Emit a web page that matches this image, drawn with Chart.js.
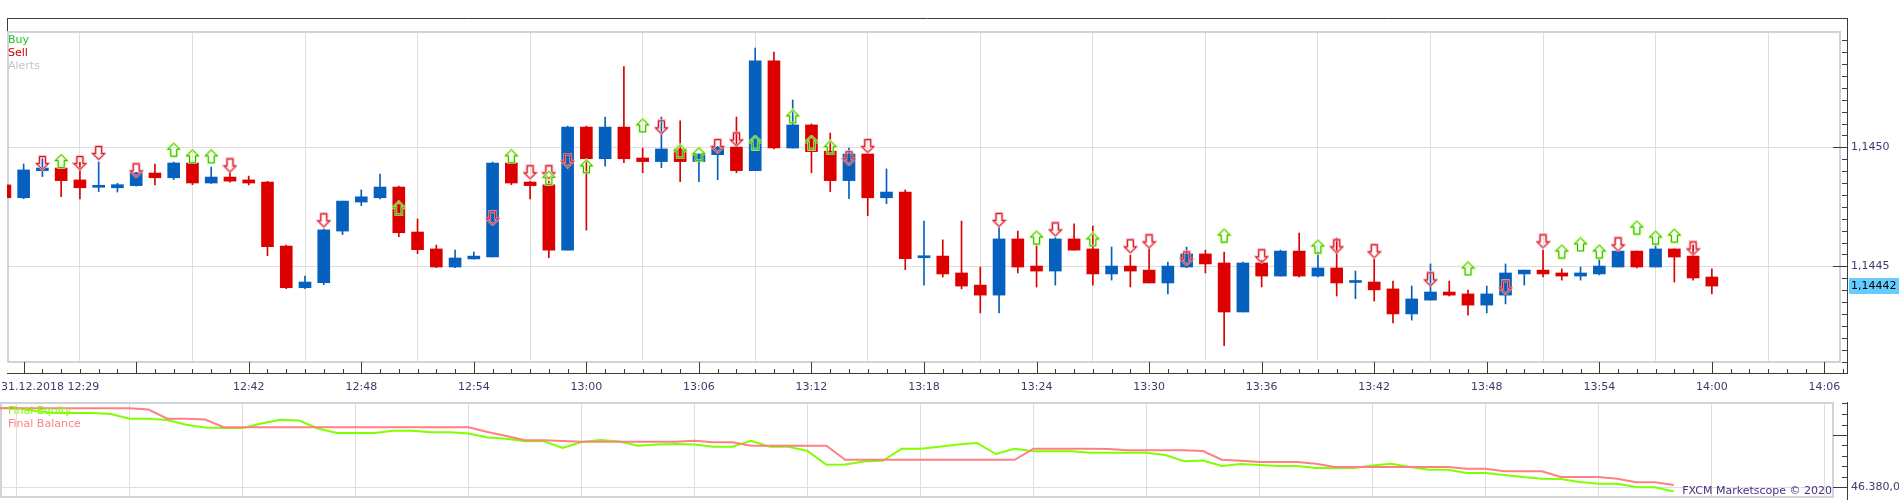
<!DOCTYPE html>
<html>
<head>
<meta charset="utf-8">
<title>EUR/USD m1 - Marketscope</title>
<script src="https://cdn.jsdelivr.net/npm/chart.js@4.4.1/dist/chart.umd.min.js"></script>
<style>
  html, body { margin: 0; padding: 0; background: #ffffff; }
  #wrap { position: relative; width: 1899px; height: 500px; overflow: hidden; }
  #chartPrezzo { position: absolute; left: 0; top: 0; }
  #chartConto { position: absolute; left: 0; top: 400px; }
</style>
</head>
<body>
<div id="wrap">
  <canvas id="chartPrezzo" width="1899" height="400"></canvas>
  <canvas id="chartConto" width="1899" height="100"></canvas>
</div>
<script>
// dati: una candela al minuto a partire dalle 12:29
var dataSessione = '31.12.2018';
var inizioMinuti = 12 * 60 + 29;

var aperture = [
  1.144842, 1.144788, 1.144902, 1.144913, 1.144863, 1.144832, 1.144830, 1.144839, 1.144892, 1.144872,
  1.144934, 1.144850, 1.144875, 1.144863, 1.144854, 1.144585, 1.144410, 1.144431, 1.144648, 1.144770,
  1.144788, 1.144833, 1.144644, 1.144573, 1.144497, 1.144531, 1.144539, 1.144934, 1.144854, 1.144842,
  1.144568, 1.145085, 1.144952, 1.145085, 1.144955, 1.144940, 1.144993, 1.144940, 1.144969, 1.145001,
  1.144902, 1.145363, 1.144997, 1.145094, 1.144984, 1.144860, 1.144972, 1.144788, 1.144812, 1.144536,
  1.144543, 1.144472, 1.144421, 1.144379, 1.144615, 1.144501, 1.144480, 1.144615, 1.144573, 1.144468,
  1.144501, 1.144484, 1.144430, 1.144497, 1.144552, 1.144514, 1.144308, 1.144514, 1.144459, 1.144564,
  1.144459, 1.144493, 1.144432, 1.144434, 1.144405, 1.144300, 1.144358, 1.144392, 1.144384, 1.144337,
  1.144379, 1.144468, 1.144484, 1.144472, 1.144459, 1.144468, 1.144497, 1.144564, 1.144497, 1.144573,
  1.144543, 1.144455
];
var massimi = [
  1.144845, 1.144930, 1.144952, 1.144913, 1.144937, 1.144938, 1.144849, 1.144895, 1.144930, 1.144938,
  1.144934, 1.144917, 1.144898, 1.144879, 1.144857, 1.144589, 1.144459, 1.144657, 1.144774, 1.144821,
  1.144888, 1.144837, 1.144699, 1.144589, 1.144568, 1.144560, 1.144938, 1.144934, 1.144857, 1.144858,
  1.145089, 1.145089, 1.145127, 1.145339, 1.144997, 1.145127, 1.145111, 1.144972, 1.145003, 1.145127,
  1.145417, 1.145400, 1.145199, 1.145098, 1.145060, 1.144997, 1.144972, 1.144909, 1.144821, 1.144690,
  1.144611, 1.144690, 1.144497, 1.144664, 1.144648, 1.144594, 1.144620, 1.144678, 1.144669, 1.144581,
  1.144547, 1.144573, 1.144518, 1.144581, 1.144568, 1.144560, 1.144518, 1.144526, 1.144568, 1.144640,
  1.144560, 1.144619, 1.144480, 1.144531, 1.144438, 1.144417, 1.144510, 1.144438, 1.144400, 1.144417,
  1.144510, 1.144484, 1.144568, 1.144489, 1.144497, 1.144531, 1.144566, 1.144564, 1.144594, 1.144573,
  1.144590, 1.144489
];
var minimi = [
  1.144785, 1.144784, 1.144877, 1.144793, 1.144783, 1.144814, 1.144812, 1.144837, 1.144842, 1.144864,
  1.144843, 1.144848, 1.144854, 1.144842, 1.144545, 1.144406, 1.144406, 1.144423, 1.144633, 1.144755,
  1.144783, 1.144624, 1.144553, 1.144494, 1.144494, 1.144530, 1.144539, 1.144843, 1.144783, 1.144536,
  1.144568, 1.144652, 1.144921, 1.144935, 1.144893, 1.144914, 1.144856, 1.144856, 1.144864, 1.144893,
  1.144902, 1.144993, 1.144997, 1.144893, 1.144814, 1.144784, 1.144713, 1.144763, 1.144486, 1.144421,
  1.144455, 1.144405, 1.144304, 1.144304, 1.144472, 1.144413, 1.144421, 1.144568, 1.144421, 1.144442,
  1.144413, 1.144430, 1.144384, 1.144494, 1.144472, 1.144167, 1.144308, 1.144413, 1.144459, 1.144455,
  1.144455, 1.144375, 1.144364, 1.144354, 1.144262, 1.144274, 1.144358, 1.144375, 1.144295, 1.144304,
  1.144342, 1.144421, 1.144455, 1.144442, 1.144442, 1.144464, 1.144497, 1.144493, 1.144497, 1.144434,
  1.144442, 1.144384
];
var chiusure = [
  1.144788, 1.144905, 1.144913, 1.144860, 1.144830, 1.144834, 1.144843, 1.144893, 1.144872, 1.144934,
  1.144850, 1.144875, 1.144858, 1.144850, 1.144582, 1.144410, 1.144434, 1.144653, 1.144774, 1.144792,
  1.144833, 1.144641, 1.144570, 1.144497, 1.144535, 1.144543, 1.144934, 1.144850, 1.144839, 1.144568,
  1.145085, 1.144952, 1.145085, 1.144952, 1.144940, 1.144993, 1.144940, 1.144972, 1.145001, 1.144902,
  1.145363, 1.144997, 1.145094, 1.144982, 1.144860, 1.144972, 1.144788, 1.144812, 1.144532, 1.144539,
  1.144468, 1.144417, 1.144379, 1.144615, 1.144497, 1.144480, 1.144615, 1.144568, 1.144468, 1.144501,
  1.144480, 1.144430, 1.144501, 1.144552, 1.144510, 1.144308, 1.144514, 1.144459, 1.144564, 1.144459,
  1.144493, 1.144430, 1.144434, 1.144401, 1.144300, 1.144363, 1.144392, 1.144379, 1.144337, 1.144384,
  1.144472, 1.144484, 1.144468, 1.144459, 1.144472, 1.144501, 1.144564, 1.144497, 1.144573, 1.144539,
  1.144451, 1.144417
];

// segnali (indice del minuto, prezzo)
var acquistiIndice = [3, 9, 10, 11, 21, 27, 29, 31, 34, 36, 37, 40, 42, 43, 44, 55, 58, 65, 70, 78, 83, 84, 85, 87, 88, 89];
var acquistiPrezzo = [
  1.144942, 1.144990, 1.144962, 1.144962, 1.144744, 1.144962, 1.144872, 1.144920, 1.145092, 1.144983,
  1.144971, 1.145020, 1.145130, 1.145020, 1.145000, 1.144621, 1.144613, 1.144629, 1.144583, 1.144491,
  1.144562, 1.144592, 1.144562, 1.144663, 1.144621, 1.144629
];
var venditeIndice = [2, 4, 5, 7, 12, 17, 26, 28, 29, 30, 35, 38, 39, 45, 46, 53, 56, 60, 61, 63, 67, 71, 73, 76, 80, 82, 86, 90];
var venditePrezzo = [
  1.144934, 1.144934, 1.144976, 1.144903, 1.144924, 1.144693, 1.144702, 1.144895, 1.144895, 1.144944,
  1.145084, 1.145005, 1.145033, 1.144954, 1.145005, 1.144695, 1.144655, 1.144584, 1.144605, 1.144533,
  1.144542, 1.144584, 1.144563, 1.144445, 1.144411, 1.144605, 1.144592, 1.144575
];

// pannello conto (un valore al minuto dalle 12:29)
var equity = [
  46411.8, 46411.8, 46410.6, 46409.8, 46409.8, 46409.8, 46409.4, 46407.5, 46407.5, 46407.0,
  46405.1, 46404.0, 46403.8, 46403.8, 46405.6, 46407.1, 46406.8, 46403.6, 46401.8, 46401.8,
  46401.8, 46402.7, 46402.7, 46402.1, 46402.1, 46401.6, 46400.0, 46399.5, 46398.5, 46398.5,
  46395.8, 46398.2, 46399.0, 46398.4, 46396.7, 46397.2, 46397.4, 46397.2, 46396.3, 46396.3,
  46398.7, 46396.3, 46396.3, 46394.6, 46389.1, 46389.2, 46390.4, 46390.7, 46395.5, 46395.5,
  46396.3, 46397.2, 46397.8, 46393.4, 46395.5, 46394.5, 46394.5, 46394.5, 46393.9, 46393.9,
  46393.9, 46393.9, 46393.0, 46390.5, 46390.8, 46388.6, 46389.4, 46389.0, 46388.6, 46388.6,
  46387.8, 46387.8, 46387.8, 46388.8, 46389.5, 46388.2, 46387.1, 46387.1, 46385.8, 46385.8,
  46385.0, 46384.2, 46383.5, 46383.4, 46382.2, 46381.5, 46381.5, 46380.2, 46380.1, 46378.4
];
var balance = [
  46411.7, 46411.7, 46411.7, 46411.7, 46411.7, 46411.7, 46411.7, 46411.7, 46411.2, 46407.5,
  46407.5, 46407.2, 46404.1, 46404.1, 46404.1, 46404.1, 46404.1, 46404.1, 46404.1, 46404.1,
  46404.1, 46404.1, 46404.1, 46404.1, 46404.1, 46404.1, 46402.2, 46400.6, 46398.9, 46398.9,
  46398.6, 46398.3, 46398.3, 46398.3, 46398.3, 46398.3, 46398.3, 46398.7, 46398.1, 46398.1,
  46396.7, 46396.7, 46396.7, 46396.7, 46396.7, 46391.1, 46391.1, 46391.1, 46391.1, 46391.1,
  46391.1, 46391.1, 46391.1, 46391.1, 46391.1, 46395.5, 46395.5, 46395.5, 46395.5, 46395.4,
  46394.9, 46394.9, 46394.9, 46394.9, 46394.6, 46391.1, 46390.7, 46390.2, 46390.2, 46390.2,
  46389.5, 46388.2, 46388.2, 46388.2, 46388.2, 46388.2, 46388.2, 46388.2, 46387.5, 46387.5,
  46386.5, 46386.5, 46386.5, 46384.2, 46384.2, 46384.2, 46383.5, 46382.1, 46382.1, 46381.0
];

// tacche degli assi
var tickTempo = [1, 7, 13, 19, 25, 31, 37, 43, 49, 55, 61, 67, 73, 79, 85, 91, 97];
var tickPrezzi = [1.1445, 1.1450];
var passoPrezzo = 0.00005;
var tickConto = [46380];
var passoConto = 4.2;

var xMin = 0.1131, xMax = 98.258;
var yMinPrezzo = 1.1440475, yMaxPrezzo = 1.1455433;
var yMinConto = 46375.0, yMaxConto = 46414.2;

var rosso = '#dc0000';
var blu = '#0561bd';
var coloreTesto = '#3d3a6e';
var coloreGriglia = '#dedede';
var coloreCornice = '#cfd3da';
var coloreAsse = '#3c3c3c';

Chart.defaults.font.family = '"DejaVu Sans", Verdana, sans-serif';
Chart.defaults.font.size = 11;

function orario(i) {
  var t = inizioMinuti + i;
  var h = Math.floor(t / 60);
  var m = t % 60;
  return h + ':' + (m < 10 ? '0' + m : m);
}

function formatoPrezzo(v, dec) {
  return v.toFixed(dec).replace('.', ',');
}

function formatoConto(v) {
  var s = v.toFixed(1).split('.');
  return s[0].replace(/\B(?=(\d{3})+(?!\d))/g, '.') + ',' + s[1];
}

//funzione che disegna la freccia dei segnali
function creaFreccia(su, bordo, alone) {
  var c = document.createElement('canvas');
  c.width = 15;
  c.height = 16;
  var ctx = c.getContext('2d');
  var punti = [[6.5, 0.5], [12.5, 6.5], [9.5, 6.5], [9.5, 13.5], [3.5, 13.5], [3.5, 6.5], [0.5, 6.5]];
  ctx.beginPath();
  for (var i = 0; i < punti.length; i++) {
    var px = punti[i][0] + 1;
    var py = (su ? punti[i][1] : 14 - punti[i][1]) + 1;
    if (i == 0) ctx.moveTo(px, py); else ctx.lineTo(px, py);
  }
  ctx.closePath();
  ctx.lineWidth = 2.4;
  ctx.strokeStyle = alone;
  ctx.stroke();
  ctx.lineWidth = 1;
  ctx.strokeStyle = bordo;
  ctx.stroke();
  return c;
}

function togliPadding(s) {
  s.paddingTop = 0;
  s.paddingBottom = 0;
  s.paddingLeft = 0;
  s.paddingRight = 0;
}

var cornicePrezzo = {
  id: 'cornicePrezzo',
  beforeDatasetsDraw: function(chart) {
    var a = chart.chartArea;
    var c = chart.ctx;
    c.save();
    c.fillStyle = '#ffffff';
    c.fillRect(a.left, a.top, a.right - a.left, 13);
    c.fillRect(a.left, a.bottom - 12, a.right - a.left, 12);
    c.fillRect(a.right - 15, a.top, 15, a.bottom - a.top);
    c.strokeStyle = coloreCornice;
    c.lineWidth = 2;
    c.strokeRect(a.left + 1, a.top + 14, a.right - 16, a.bottom - a.top - 26);
    c.restore();
  },
  afterDraw: function(chart) {
    var a = chart.chartArea;
    var c = chart.ctx;
    var sx = chart.scales.x;
    var sy = chart.scales.y;
    c.save();
    c.strokeStyle = coloreAsse;
    c.lineWidth = 1;
    c.beginPath();
    c.moveTo(a.left, a.top + 0.5); c.lineTo(a.right, a.top + 0.5);
    c.moveTo(a.left + 0.5, a.top); c.lineTo(a.left + 0.5, a.top + 13);
    c.moveTo(a.right - 0.5, a.top); c.lineTo(a.right - 0.5, a.bottom);
    c.moveTo(a.left, a.bottom - 0.5); c.lineTo(a.right, a.bottom - 0.5);
    // tacche prezzo
    for (var n = 0; n <= 32; n++) {
      var v = 1.1440 + n * passoPrezzo;
      var y = Math.round(sy.getPixelForValue(v)) + 0.5;
      if (y < a.top + 14 || y > a.bottom - 6) continue;
      var lunga = n % 10 == 0;
      c.moveTo(a.right - (lunga ? 15 : 6), y);
      c.lineTo(a.right, y);
    }
    // tacche tempo
    for (var i = 0; i <= 98; i++) {
      var x = Math.round(sx.getPixelForValue(i)) + 0.5;
      if (x < a.left || x > a.right - 1) continue;
      var lungo = (i - 1) % 6 == 0;
      c.moveTo(x, a.bottom);
      c.lineTo(x, a.bottom - (lungo ? 12 : 5));
    }
    c.stroke();

    // legenda
    c.font = '11px "DejaVu Sans"';
    c.textAlign = 'left';
    c.textBaseline = 'alphabetic';
    c.fillStyle = '#22c322';
    c.fillText('Buy', 8, a.top + 25);
    c.fillStyle = '#cc0000';
    c.fillText('Sell', 8, a.top + 38);
    c.fillStyle = '#c4c4c4';
    c.fillText('Alerts', 8, a.top + 51);

    // prima etichetta con la data
    c.textBaseline = 'middle';
    c.fillStyle = coloreTesto;
    c.fillText(dataSessione + ' ' + orario(0), 1, a.bottom + 13.6);

    // ultimo prezzo
    var ultimo = chiusure[chiusure.length - 1];
    var yp = sy.getPixelForValue(ultimo);
    c.fillStyle = '#66ccff';
    c.fillRect(a.right + 1, Math.round(yp) - 8, chart.width - a.right - 1, 16);
    c.fillStyle = '#000000';
    c.fillText(formatoPrezzo(ultimo, 5), a.right + 3, yp);
    c.restore();
  }
};

var corniceConto = {
  id: 'corniceConto',
  beforeDatasetsDraw: function(chart) {
    var a = chart.chartArea;
    var c = chart.ctx;
    c.save();
    c.fillStyle = '#ffffff';
    c.fillRect(a.left, a.bottom - 3, a.right - a.left, 3);
    c.fillRect(a.right - 15, a.top, 15, a.bottom - a.top);
    c.strokeStyle = coloreCornice;
    c.lineWidth = 2;
    c.strokeRect(a.left + 1, a.top + 1, a.right - 16, a.bottom - a.top - 4);
    c.restore();
  },
  afterDraw: function(chart) {
    var a = chart.chartArea;
    var c = chart.ctx;
    var sy = chart.scales.y;
    c.save();
    c.strokeStyle = coloreAsse;
    c.lineWidth = 1;
    c.beginPath();
    c.moveTo(a.right - 0.5, a.top); c.lineTo(a.right - 0.5, a.bottom);
    for (var n = 0; n <= 8; n++) {
      var y = Math.round(sy.getPixelForValue(tickConto[0] + n * passoConto)) + 0.5;
      var lunga = n % 5 == 0;
      c.moveTo(a.right - (lunga ? 15 : 6), y);
      c.lineTo(a.right, y);
    }
    c.stroke();

    c.font = '11px "DejaVu Sans"';
    c.textBaseline = 'alphabetic';
    c.textAlign = 'left';
    c.fillStyle = '#80ff00';
    c.fillText('Final Equity', 8, a.top + 12);
    c.fillStyle = '#ff8080';
    c.fillText('Final Balance', 8, a.top + 25);
    c.textAlign = 'right';
    c.fillStyle = '#4b2e83';
    c.fillText('FXCM Marketscope \u00A9 2020', a.right - 16, a.bottom - 6);
    c.restore();
  }
};

//funzione grafico candele
function graficoCandele() {
  var datiCorpo = [];
  var datiOmbra = [];
  var colori = [];
  for (var i = 0; i < aperture.length; i++) {
    datiOmbra.push({ x: i, y: [minimi[i], massimi[i]] });
    datiCorpo.push({ x: i, y: [aperture[i], chiusure[i]] });
    colori.push(chiusure[i] >= aperture[i] ? blu : rosso);
  }
  var datiBuy = [];
  for (var j = 0; j < acquistiIndice.length; j++) {
    datiBuy.push({ x: acquistiIndice[j], y: acquistiPrezzo[j] });
  }
  var datiSell = [];
  for (var k = 0; k < venditeIndice.length; k++) {
    datiSell.push({ x: venditeIndice[k], y: venditePrezzo[k] });
  }

  var ctx = document.getElementById('chartPrezzo');
  new Chart(ctx, {
    type: 'bar',
    data: {
      datasets: [
        { type: 'scatter', label: 'Buy', data: datiBuy, pointStyle: creaFreccia(true, '#14b414', '#d6ff7a'), pointRadius: 6, order: 0 },
        { type: 'scatter', label: 'Sell', data: datiSell, pointStyle: creaFreccia(false, '#d01010', '#f7a6b6'), pointRadius: 6, order: 0 },
        { label: 'corpo', data: datiCorpo, backgroundColor: colori, barThickness: 12, minBarLength: 2, grouped: false, borderWidth: 0, order: 1 },
        { label: 'ombra', data: datiOmbra, backgroundColor: colori, barThickness: 1, grouped: false, borderWidth: 0, order: 2 }
      ]
    },
    options: {
      responsive: false,
      animation: false,
      events: [],
      layout: { padding: { top: 18, left: 0, right: 0, bottom: 0 } },
      plugins: { legend: { display: false }, tooltip: { enabled: false } },
      scales: {
        x: {
          type: 'linear',
          min: xMin,
          max: xMax,
          offset: false,
          afterBuildTicks: function(s) { s.ticks = tickTempo.map(function(v) { return { value: v }; }); },
          afterFit: function(s) { s.height = 26; togliPadding(s); },
          grid: { color: coloreGriglia, drawTicks: false },
          border: { display: false },
          ticks: {
            autoSkip: false,
            maxRotation: 0,
            padding: 7,
            color: coloreTesto,
            callback: function(v) { return v >= 13 ? orario(v) : ''; }
          }
        },
        y: {
          position: 'right',
          min: yMinPrezzo,
          max: yMaxPrezzo,
          afterBuildTicks: function(s) { s.ticks = tickPrezzi.map(function(v) { return { value: v }; }); },
          afterFit: function(s) { s.width = 51; togliPadding(s); },
          grid: { color: coloreGriglia, drawTicks: false },
          border: { display: false },
          ticks: { padding: 3, color: coloreTesto, callback: function(v) { return formatoPrezzo(v, 4); } }
        }
      }
    },
    plugins: [cornicePrezzo]
  });
}

//funzione grafico equity / balance
function graficoConto() {
  var puntiEquity = [];
  var puntiBalance = [];
  for (var i = 0; i < equity.length; i++) {
    puntiEquity.push({ x: i, y: equity[i] });
    puntiBalance.push({ x: i, y: balance[i] });
  }
  var ctx = document.getElementById('chartConto');
  new Chart(ctx, {
    type: 'line',
    data: {
      datasets: [
        { label: 'Final Balance', data: puntiBalance, borderColor: '#ff8080', borderWidth: 2, pointRadius: 0, tension: 0, order: 0 },
        { label: 'Final Equity', data: puntiEquity, borderColor: '#80ff00', borderWidth: 2, pointRadius: 0, tension: 0, order: 1 }
      ]
    },
    options: {
      responsive: false,
      animation: false,
      events: [],
      layout: { padding: { top: 2, left: 0, right: 0, bottom: 0 } },
      plugins: { legend: { display: false }, tooltip: { enabled: false } },
      scales: {
        x: {
          type: 'linear',
          min: xMin,
          max: xMax,
          afterBuildTicks: function(s) { s.ticks = tickTempo.map(function(v) { return { value: v }; }); },
          afterFit: function(s) { s.height = 0; togliPadding(s); },
          grid: { color: coloreGriglia, drawTicks: false },
          border: { display: false },
          ticks: { display: false }
        },
        y: {
          position: 'right',
          min: yMinConto,
          max: yMaxConto,
          afterBuildTicks: function(s) { s.ticks = tickConto.map(function(v) { return { value: v }; }); },
          afterFit: function(s) { s.width = 51; togliPadding(s); },
          grid: { color: coloreGriglia, drawTicks: false },
          border: { display: false },
          ticks: { padding: 3, color: coloreTesto, callback: function(v) { return formatoConto(v); } }
        }
      }
    },
    plugins: [corniceConto]
  });
}

graficoCandele();
graficoConto();
</script>
</body>
</html>
